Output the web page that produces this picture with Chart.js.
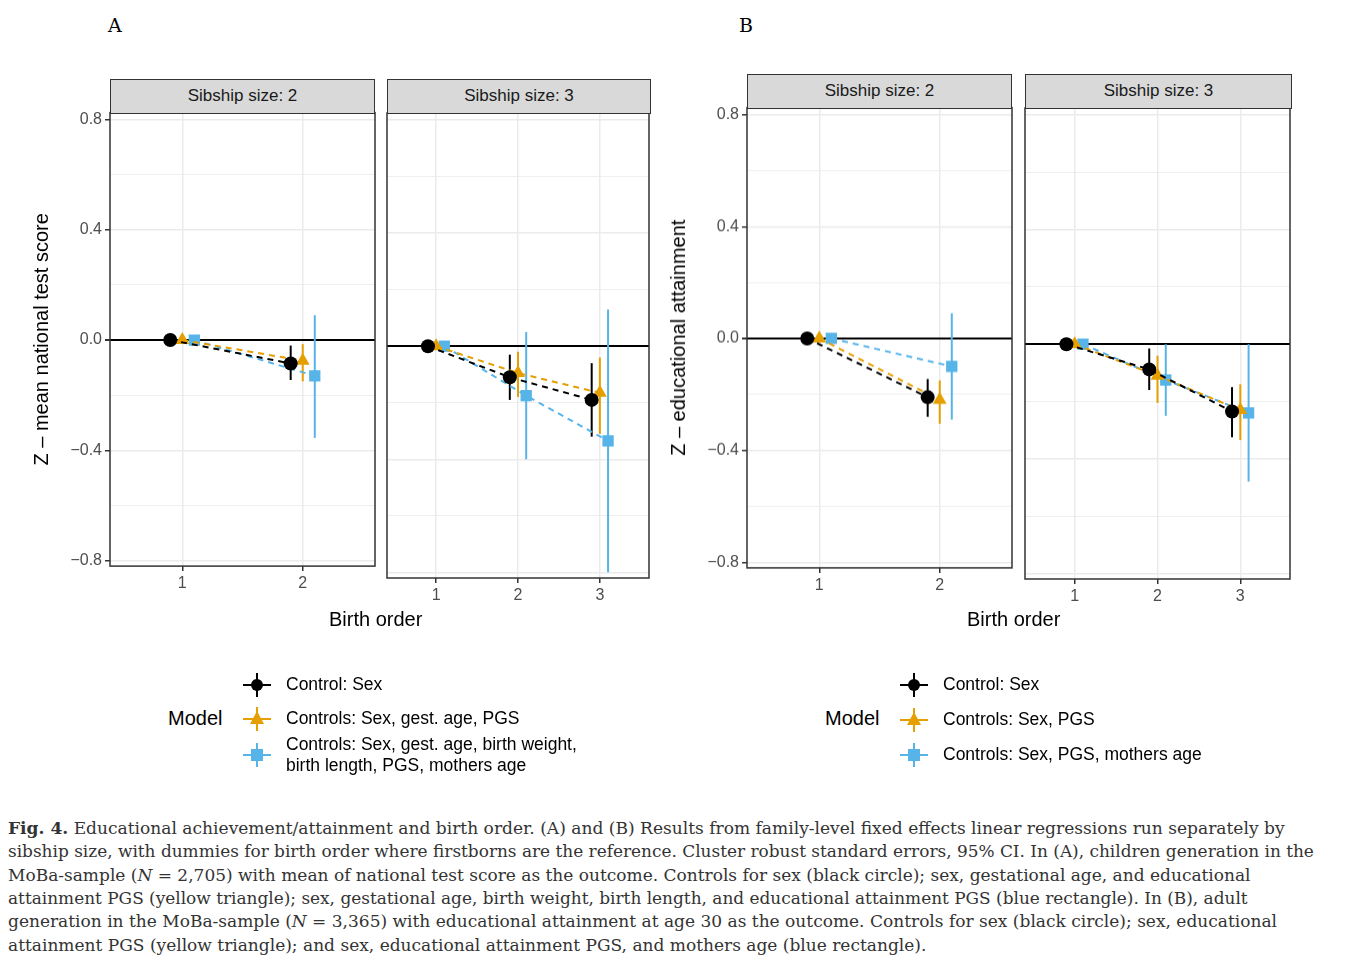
<!DOCTYPE html>
<html>
<head>
<meta charset="utf-8">
<script src="https://cdn.jsdelivr.net/npm/chart.js@4.4.0/dist/chart.umd.min.js"></script>
<style>
body { margin: 0; background: #fff; font-family: "Liberation Sans", Arial, sans-serif; }
#page { position: relative; width: 1357px; height: 974px; overflow: hidden; }
canvas { position: absolute; }
.strip { position: absolute; box-sizing: border-box; background: #d9d9d9; border: 1.5px solid #333;
  font-size: 17px; color: #1a1a1a; text-align: center; }
.txt { position: absolute; white-space: nowrap; }
.letter { position: absolute; font-family: "DejaVu Serif", serif; font-size: 19px; }
.cap { position: absolute; left: 8px; white-space: nowrap; font-family: "DejaVu Serif", serif; font-size: 16.6px; color: #333; }
.leg { position: absolute; font-size: 17.5px; color: #000; white-space: nowrap; }
</style>
</head>
<body>
<div id="page"></div>
<script>
// ---- data ----
const birthOrder2 = [1, 2];
const birthOrder3 = [1, 2, 3];
const modelColors = ['#000000', '#E69F00', '#56B4E9'];
const modelOffsets = [-0.1, 0, 0.1];
const modelShapes = ['circle', 'triangle', 'rect'];
const yTicks = [-0.8, -0.6, -0.4, -0.2, 0, 0.2, 0.4, 0.6, 0.8];

// A, sibship size 2
const aS2Est = [[0, -0.085], [0, -0.075], [0, -0.13]];
const aS2Lo  = [[0, -0.145], [0, -0.15], [0, -0.355]];
const aS2Hi  = [[0, -0.02], [0, -0.015], [0, 0.09]];
// A, sibship size 3
const aS3Est = [[0, -0.11, -0.19], [0, -0.095, -0.165], [0, -0.175, -0.335]];
const aS3Lo  = [[0, -0.19, -0.32], [0, -0.18, -0.31], [0, -0.40, -0.80]];
const aS3Hi  = [[0, -0.03, -0.06], [0, -0.02, -0.04], [0, 0.05, 0.13]];
// B, sibship size 2
const bS2Est = [[0, -0.21], [0, -0.22], [0, -0.10]];
const bS2Lo  = [[0, -0.28], [0, -0.305], [0, -0.29]];
const bS2Hi  = [[0, -0.145], [0, -0.15], [0, 0.09]];
// B, sibship size 3
const bS3Est = [[0, -0.088, -0.235], [0, -0.11, -0.23], [0, -0.125, -0.24]];
const bS3Lo  = [[0, -0.16, -0.325], [0, -0.205, -0.335], [0, -0.25, -0.48]];
const bS3Hi  = [[0, -0.015, -0.15], [0, -0.04, -0.14], [0, 0, 0]];

const page = document.getElementById('page');

// error bars drawn behind the markers, panel border on top
const errorBars = {
    id: 'errorBars',
    beforeDatasetsDraw(chart) {
        const ctx = chart.ctx, xs = chart.scales.x, ys = chart.scales.y;
        ctx.save();
        chart.data.datasets.forEach(ds => {
            ds.data.forEach((p, i) => {
                if (ds.lo[i] === ds.hi[i]) return;
                ctx.strokeStyle = ds.borderColor;
                ctx.lineWidth = 2;
                ctx.beginPath();
                ctx.moveTo(xs.getPixelForValue(p.x), ys.getPixelForValue(ds.lo[i]));
                ctx.lineTo(xs.getPixelForValue(p.x), ys.getPixelForValue(ds.hi[i]));
                ctx.stroke();
            });
        });
        ctx.restore();
    },
    afterDraw(chart) {
        const a = chart.chartArea, ctx = chart.ctx;
        ctx.save();
        ctx.strokeStyle = '#333';
        ctx.lineWidth = 1.5;
        ctx.strokeRect(a.left, a.top, a.right - a.left, a.bottom - a.top);
        ctx.restore();
    }
};

const isMajor = v => Math.abs(Math.round(v * 10)) % 4 === 0;

// plotLeft/plotTop/plotW/plotH: wanted chart area on the page
function makePanel(plotLeft, plotTop, plotW, plotH, showY, yTitle, orders, est, lo, hi) {
    const c = document.createElement('canvas');
    let w = plotW + (showY ? 80 : 0) + 20, h = plotH + 50;
    c.width = w; c.height = h;
    page.appendChild(c);
    const datasets = est.map((vals, m) => ({
        data: orders.map((o, i) => ({ x: o + modelOffsets[m], y: vals[i] })),
        lo: lo[m], hi: hi[m],
        borderColor: modelColors[m], backgroundColor: modelColors[m],
        borderWidth: 2, borderDash: [6, 5], pointStyle: modelShapes[m],
        pointRadius: m === 0 ? 7 : 8, pointBorderWidth: 0, showLine: true
    }));
    const chart = new Chart(c, {
        type: 'scatter',
        data: { datasets },
        plugins: [errorBars],
        options: {
            responsive: false, animation: false,
            layout: { padding: 0 },
            plugins: { legend: { display: false }, tooltip: { enabled: false } },
            scales: {
                x: {
                    type: 'linear', min: 0.4, max: orders.length + 0.6,
                    afterBuildTicks: s => { s.ticks = orders.map(v => ({ value: v })); },
                    afterFit: s => { s.height = 32; },
                    ticks: { font: { size: 16 }, color: '#4d4d4d', padding: 3 },
                    grid: { color: '#ebebeb', lineWidth: 1.5, tickColor: '#333', tickLength: 5 },
                    border: { display: false }
                },
                y: {
                    min: -0.82, max: 0.825,
                    afterBuildTicks: s => { s.ticks = yTicks.map(v => ({ value: v })); },
                    afterFit: s => { s.width = showY ? 80 : 0; },
                    ticks: {
                        display: showY, font: { size: 16 }, color: '#4d4d4d', padding: 3,
                        callback: v => isMajor(v) ? (v < 0 ? '\u2212' : '') + Math.abs(v).toFixed(1) : ''
                    },
                    title: { display: showY, text: yTitle, font: { size: 20 }, color: '#000', padding: 0 },
                    grid: {
                        color: ctx => Math.abs(ctx.tick.value) < 1e-9 ? '#000' : '#ebebeb',
                        lineWidth: ctx => Math.abs(ctx.tick.value) < 1e-9 ? 2 : (isMajor(ctx.tick.value) ? 1.5 : 0.8),
                        tickColor: ctx => (showY && isMajor(ctx.tick.value)) ? '#333' : 'rgba(0,0,0,0)',
                        tickLength: showY ? 5 : 0, drawTicks: showY
                    },
                    border: { display: false }
                }
            }
        }
    });
    // fit the canvas so that the chart area lands on the wanted rectangle
    for (let k = 0; k < 3; k++) {
        const a = chart.chartArea;
        const L = a.left, T = a.top, R = w - a.right, B = h - a.bottom;
        w = Math.round(plotW + L + R); h = Math.round(plotH + T + B);
        chart.resize(w, h);
        c.style.left = (plotLeft - chart.chartArea.left) + 'px';
        c.style.top = (plotTop - chart.chartArea.top) + 'px';
    }
}

makePanel(110, 113, 265, 465, true, 'Z \u2013 mean national test score', birthOrder2, aS2Est, aS2Lo, aS2Hi);
makePanel(387, 113, 264, 465, false, '', birthOrder3, aS3Est, aS3Lo, aS3Hi);
makePanel(747, 108, 265, 471, true, 'Z \u2013 educational attainment', birthOrder2, bS2Est, bS2Lo, bS2Hi);
makePanel(1025, 108, 267, 471, false, '', birthOrder3, bS3Est, bS3Lo, bS3Hi);

function addHtml(html) { page.insertAdjacentHTML('beforeend', html); }

// strips
[[110, 79, 265, 'Sibship size: 2'], [387, 79, 264, 'Sibship size: 3'],
 [747, 74, 265, 'Sibship size: 2'], [1025, 74, 267, 'Sibship size: 3']].forEach(s => {
    addHtml(`<div class="strip" style="left:${s[0]}px;top:${s[1]}px;width:${s[2]}px;height:35px;line-height:32px">${s[3]}</div>`);
});

addHtml('<div class="letter" style="left:108px;top:14px">A</div>');
addHtml('<div class="letter" style="left:739px;top:14px">B</div>');
addHtml('<div class="txt" style="left:329px;top:608px;font-size:20px">Birth order</div>');
addHtml('<div class="txt" style="left:967px;top:608px;font-size:20px">Birth order</div>');

// legends
function key(m) {
    const c = modelColors[m];
    const mark = m === 0 ? `<circle cx="14" cy="14" r="6" fill="${c}"/>`
        : m === 1 ? `<polygon points="14,6 21,19 7,19" fill="${c}"/>`
        : `<rect x="8" y="8" width="12" height="12" fill="${c}"/>`;
    return `<svg width="28" height="28" style="position:absolute"><line x1="0" y1="14" x2="28" y2="14" stroke="${c}" stroke-width="2"/><line x1="14" y1="2" x2="14" y2="26" stroke="${c}" stroke-width="2"/>${mark}</svg>`;
}
function legend(x, modelX, rows) {
    addHtml(`<div class="leg" style="left:${modelX}px;top:707px;font-size:20px">Model</div>`);
    rows.forEach((r, m) => {
        addHtml(`<div style="position:absolute;left:${x}px;top:${r[0] - 14}px">${key(m)}</div>`);
        addHtml(`<div class="leg" style="left:${x + 43}px;top:${r[0] - 11 - (r[2] || 0)}px;line-height:21px">${r[1]}</div>`);
    });
}
legend(243, 168, [[685, 'Control: Sex'], [719, 'Controls: Sex, gest. age, PGS'],
    [755, 'Controls: Sex, gest. age, birth weight,<br>birth length, PGS, mothers age', 10]]);
legend(900, 825, [[685, 'Control: Sex'], [720, 'Controls: Sex, PGS'], [755, 'Controls: Sex, PGS, mothers age']]);

// caption
const capLines = [
    '<b>Fig. 4.</b> Educational achievement/attainment and birth order. (A) and (B) Results from family-level fixed effects linear regressions run separately by',
    'sibship size, with dummies for birth order where firstborns are the reference. Cluster robust standard errors, 95% CI. In (A), children generation in the',
    'MoBa-sample (<i>N</i> = 2,705) with mean of national test score as the outcome. Controls for sex (black circle); sex, gestational age, and educational',
    'attainment PGS (yellow triangle); sex, gestational age, birth weight, birth length, and educational attainment PGS (blue rectangle). In (B), adult',
    'generation in the MoBa-sample (<i>N</i> = 3,365) with educational attainment at age 30 as the outcome. Controls for sex (black circle); sex, educational',
    'attainment PGS (yellow triangle); and sex, educational attainment PGS, and mothers age (blue rectangle).'
];
const capWidths = [1277, 1306, 1243, 1240, 1270, 918];
capLines.forEach((t, i) => {
    addHtml(`<div class="cap" id="cap${i}" style="top:${818 + i * 23.3}px">${t}</div>`);
    const el = document.getElementById('cap' + i);
    const w = el.getBoundingClientRect().width;
    el.style.fontSize = (16.6 * capWidths[i] / w).toFixed(2) + 'px';
});
</script>
</body>
</html>
